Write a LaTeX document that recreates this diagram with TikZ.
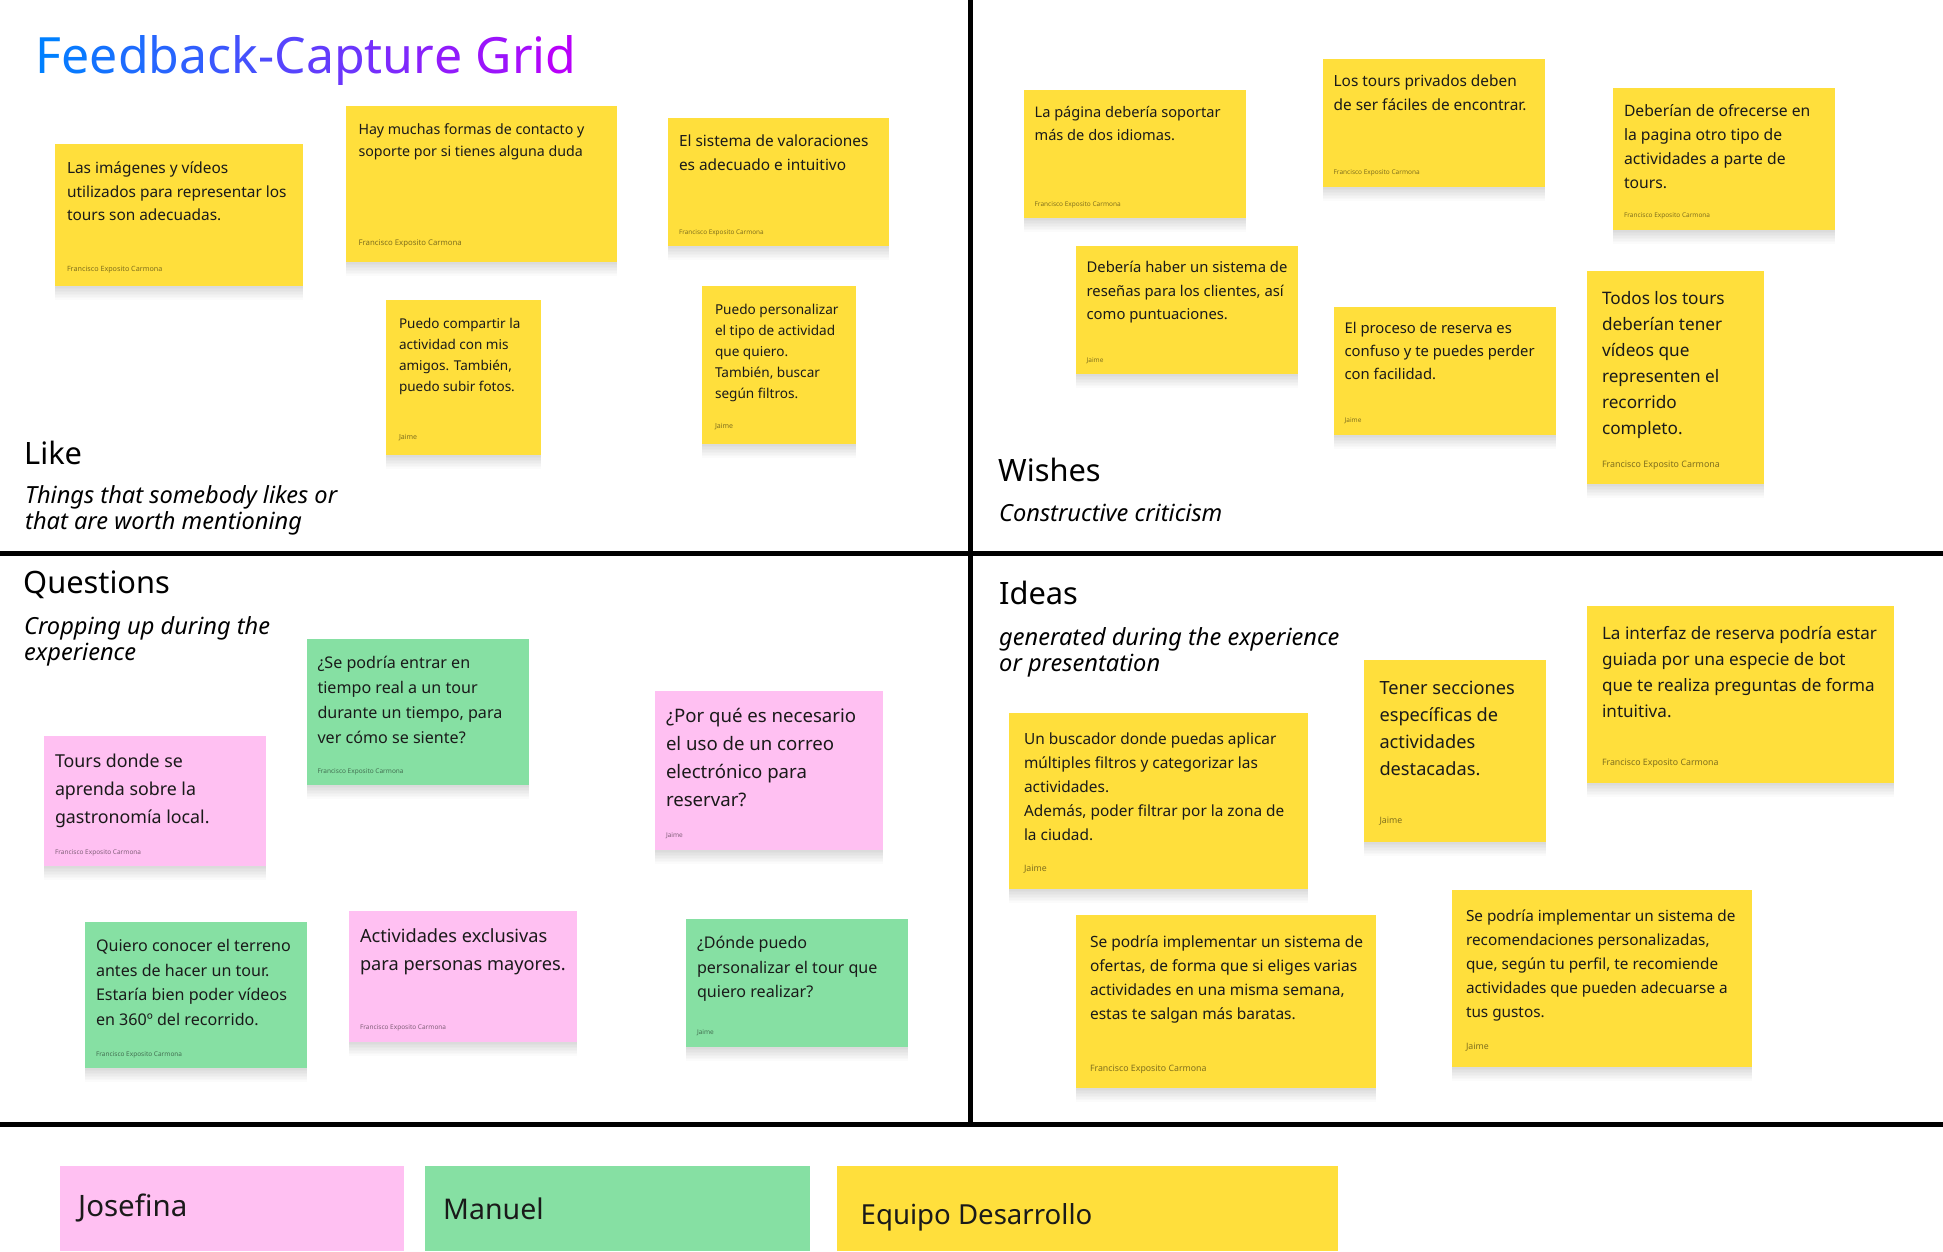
\documentclass[tikz,border=0pt]{standalone}
\usepackage{fontspec}
\setmainfont{Noto Sans}
\usetikzlibrary{fit,shadows}
\definecolor{stY}{RGB}{255,223,60}
\definecolor{stP}{RGB}{255,192,242}
\definecolor{stG}{RGB}{134,224,163}
\definecolor{tA}{RGB}{0,128,255}
\definecolor{tB}{RGB}{185,0,250}
\definecolor{ink}{RGB}{26,26,26}
\newcommand\tg[2]{\textcolor{tB!#1!tA}{#2}}
\newcommand\fl{\rule{0pt}{1em}}
\tikzset{
  fs/.style 2 args={font=\fontsize{#1}{#2}\selectfont},
  sh/.style={drop shadow={shadow xshift=0pt, shadow yshift=-#1pt, opacity=0.014, fill=black}},
  sticky/.style={inner sep=0pt, outer sep=0pt, draw=none,
    sh=1.5, sh=3, sh=4.5, sh=6, sh=7.5, sh=9, sh=10.5, sh=12, sh=13.5},
  yl/.style={sticky, fill=stY},
  pk/.style={sticky, fill=stP},
  gr/.style={sticky, fill=stG},
  stext/.style={anchor=north west, inner sep=0pt, outer sep=0pt, align=left, text=ink},
  sauth/.style={anchor=base west, inner sep=0pt, outer sep=0pt, text=black, text opacity=0.5},
  head/.style={anchor=base west, inner sep=0pt, text=black, fs={30.8}{35}},
  sub/.style={anchor=north west, inner sep=0pt, align=left, text=black, font=\fontsize{23.6}{25.6}\selectfont\itshape},
  grid/.style={line width=5pt, black},
  legend/.style={inner sep=0pt, outer sep=0pt, draw=none},
  legtext/.style={anchor=base west, inner sep=0pt, text=ink}
}
\begin{document}
\begin{tikzpicture}[x=1pt,y=-1pt]
\useasboundingbox (0,0) rectangle (1943,1251);
\fill[white] (0,0) rectangle (1943,1251);

% grid lines
\coordinate (vt) at (970.5,0);
\coordinate (vb) at (970.5,1124.5);
\coordinate (hl) at (0,553.5);
\coordinate (hr) at (1943,553.5);
\coordinate (bl) at (0,1124.5);
\coordinate (br) at (1943,1124.5);
\draw[grid] (vt) -- (vb);
\draw[grid] (hl) -- (hr);
\draw[grid] (bl) -- (br);

% title
\node[anchor=base west, inner sep=0pt, fs={50}{56}] (title) at (35.5,73.5)
 {\tg{0}{F}\tg{5}{e}\tg{11}{e}\tg{16}{d}\tg{21}{b}\tg{26}{a}\tg{32}{c}\tg{37}{k}\tg{42}{-}\tg{47}{C}\tg{53}{a}\tg{58}{p}\tg{63}{t}\tg{68}{u}\tg{74}{r}\tg{79}{e} \tg{84}{G}\tg{89}{r}\tg{95}{i}\tg{100}{d}};

% section headings
\node[head] (like) at (24,464) {Like};
\node[sub] (likesub) at (25,480) {\fl Things that somebody likes or\\that are worth mentioning};
\node[head] (wishes) at (998,481.4) {Wishes};
\node[sub] (wishsub) at (999,497.4) {\fl Constructive criticism};
\node[head] (quest) at (23,593.7) {Questions};
\node[sub] (questsub) at (24,610.8) {\fl Cropping up during the\\experience};
\node[head] (ideas) at (999,604.8) {Ideas};
\node[sub] (ideasub) at (999,621.9) {\fl generated during the experience\\or presentation};

% ---------- Like ----------
\node[yl, fit={(55,144) (303,286)}] (L1) {};
\node[stext, fs={15.4}{23.8}] (L1t) at ([shift={(12,13.9)}]L1.north west) {\fl Las imágenes y vídeos\\utilizados para representar los\\tours son adecuadas.};
\node[sauth, fs={7.2}{9}] (L1a) at ([shift={(12,-14.8)}]L1.south west) {Francisco Exposito Carmona};

\node[yl, fit={(346,106) (617,262)}] (L2) {};
\node[stext, fs={14.2}{22}] (L2t) at ([shift={(12.5,14.6)}]L2.north west) {\fl Hay muchas formas de contacto y\\soporte por si tienes alguna duda};
\node[sauth, fs={7.8}{9}] (L2a) at ([shift={(12.5,-16.2)}]L2.south west) {Francisco Exposito Carmona};

\node[yl, fit={(668,118) (889,246)}] (L3) {};
\node[stext, fs={15.4}{24}] (L3t) at ([shift={(11,13.1)}]L3.north west) {\fl El sistema de valoraciones\\es adecuado e intuitivo};
\node[sauth, fs={6.4}{8}] (L3a) at ([shift={(11,-12)}]L3.south west) {Francisco Exposito Carmona};

\node[yl, fit={(386,300) (541,455)}] (L4) {};
\node[stext, fs={13.5}{21}] (L4t) at ([shift={(13,14.8)}]L4.north west) {\fl Puedo compartir la\\actividad con mis\\amigos. También,\\puedo subir fotos.};
\node[sauth, fs={7}{9}] (L4a) at ([shift={(13,-15.4)}]L4.south west) {Jaime};

\node[yl, fit={(702,286) (856,444)}] (L5) {};
\node[stext, fs={13.6}{21}] (L5t) at ([shift={(13,14.8)}]L5.north west) {\fl Puedo personalizar\\el tipo de actividad\\que quiero.\\También, buscar\\según filtros.};
\node[sauth, fs={7}{9}] (L5a) at ([shift={(13,-16)}]L5.south west) {Jaime};

% ---------- Wishes ----------
\node[yl, fit={(1024,90) (1246,218)}] (W1) {};
\node[stext, fs={14.6}{23.2}] (W1t) at ([shift={(10.6,12.6)}]W1.north west) {\fl La página debería soportar\\más de dos idiomas.};
\node[sauth, fs={6.5}{8}] (W1a) at ([shift={(10.6,-11.7)}]W1.south west) {Francisco Exposito Carmona};

\node[yl, fit={(1323,59) (1545,187)}] (W2) {};
\node[stext, fs={15.4}{23.8}] (W2t) at ([shift={(10.6,12.5)}]W2.north west) {\fl Los tours privados deben\\de ser fáciles de encontrar.};
\node[sauth, fs={6.5}{8}] (W2a) at ([shift={(10.6,-12.4)}]W2.south west) {Francisco Exposito Carmona};

\node[yl, fit={(1613,88) (1835,230)}] (W3) {};
\node[stext, fs={15.7}{24}] (W3t) at ([shift={(11,12.8)}]W3.north west) {\fl Deberían de ofrecerse en\\la pagina otro tipo de\\actividades a parte de\\tours.};
\node[sauth, fs={6.5}{8}] (W3a) at ([shift={(11,-12.4)}]W3.south west) {Francisco Exposito Carmona};

\node[yl, fit={(1076,246) (1298,374)}] (W4) {};
\node[stext, fs={14.8}{23.4}] (W4t) at ([shift={(10.6,12.1)}]W4.north west) {\fl Debería haber un sistema de\\reseñas para los clientes, así\\como puntuaciones.};
\node[sauth, fs={6.5}{8}] (W4a) at ([shift={(10.6,-12)}]W4.south west) {Jaime};

\node[yl, fit={(1334,307) (1556,435)}] (W5) {};
\node[stext, fs={14.8}{23}] (W5t) at ([shift={(10.6,11.9)}]W5.north west) {\fl El proceso de reserva es\\confuso y te puedes perder\\con facilidad.};
\node[sauth, fs={6.5}{8}] (W5a) at ([shift={(10.6,-12.4)}]W5.south west) {Jaime};

\node[yl, fit={(1587,271) (1764,484)}] (W6) {};
\node[stext, fs={17.2}{26}] (W6t) at ([shift={(15,15.9)}]W6.north west) {\fl Todos los tours\\deberían tener\\vídeos que\\representen el\\recorrido\\completo.};
\node[sauth, fs={8.9}{10}] (W6a) at ([shift={(15,-16.8)}]W6.south west) {Francisco Exposito Carmona};

% ---------- Questions ----------
\node[pk, fit={(44,736) (266,866)}] (Q1) {};
\node[stext, fs={17.8}{28}] (Q1t) at ([shift={(11,13.5)}]Q1.north west) {\fl Tours donde se\\aprenda sobre la\\gastronomía local.};
\node[sauth, fs={6.5}{8}] (Q1a) at ([shift={(11,-12)}]Q1.south west) {Francisco Exposito Carmona};

\node[gr, fit={(307,639) (529,785)}] (Q2) {};
\node[stext, fs={16.1}{24.8}] (Q2t) at ([shift={(10.5,13.7)}]Q2.north west) {\fl ¿Se podría entrar en\\tiempo real a un tour\\durante un tiempo, para\\ver cómo se siente?};
\node[sauth, fs={6.5}{8}] (Q2a) at ([shift={(10.5,-12)}]Q2.south west) {Francisco Exposito Carmona};

\node[pk, fit={(655,691) (883,850)}] (Q3) {};
\node[stext, fs={18.6}{28}] (Q3t) at ([shift={(11,12.4)}]Q3.north west) {\fl ¿Por qué es necesario\\el uso de un correo\\electrónico para\\reservar?};
\node[sauth, fs={6.5}{8}] (Q3a) at ([shift={(11,-12.5)}]Q3.south west) {Jaime};

\node[gr, fit={(85,922) (307,1068)}] (Q4) {};
\node[stext, fs={16.1}{24.8}] (Q4t) at ([shift={(11,13.1)}]Q4.north west) {\fl Quiero conocer el terreno\\antes de hacer un tour.\\Estaría bien poder vídeos\\en 360º del recorrido.};
\node[sauth, fs={6.5}{8}] (Q4a) at ([shift={(11,-12)}]Q4.south west) {Francisco Exposito Carmona};

\node[pk, fit={(349,911) (577,1042)}] (Q5) {};
\node[stext, fs={18.2}{28.5}] (Q5t) at ([shift={(11,13.2)}]Q5.north west) {\fl Actividades exclusivas\\para personas mayores.};
\node[sauth, fs={6.5}{8}] (Q5a) at ([shift={(11,-12.5)}]Q5.south west) {Francisco Exposito Carmona};

\node[gr, fit={(686,919) (908,1047)}] (Q6) {};
\node[stext, fs={16.1}{24.8}] (Q6t) at ([shift={(11,13.1)}]Q6.north west) {\fl ¿Dónde puedo\\personalizar el tour que\\quiero realizar?};
\node[sauth, fs={6.5}{8}] (Q6a) at ([shift={(11,-12.8)}]Q6.south west) {Jaime};

% ---------- Ideas ----------
\node[yl, fit={(1009,713) (1308,889)}] (I1) {};
\node[stext, fs={15.4}{24}] (I1t) at ([shift={(15,16.3)}]I1.north west) {\fl Un buscador donde puedas aplicar\\múltiples filtros y categorizar las\\actividades.\\Además, poder filtrar por la zona de\\la ciudad.};
\node[sauth, fs={8.8}{10}] (I1a) at ([shift={(15,-17.3)}]I1.south west) {Jaime};

\node[yl, fit={(1364,660) (1546,842)}] (I2) {};
\node[stext, fs={18.2}{27}] (I2t) at ([shift={(15.5,16.3)}]I2.north west) {\fl Tener secciones\\específicas de\\actividades\\destacadas.};
\node[sauth, fs={8.8}{10}] (I2a) at ([shift={(15.5,-19)}]I2.south west) {Jaime};

\node[yl, fit={(1587,606) (1894,783)}] (I3) {};
\node[stext, fs={17.1}{26}] (I3t) at ([shift={(15,16)}]I3.north west) {\fl La interfaz de reserva podría estar\\guiada por una especie de bot\\que te realiza preguntas de forma\\intuitiva.};
\node[sauth, fs={8.8}{10}] (I3a) at ([shift={(15,-17.7)}]I3.south west) {Francisco Exposito Carmona};

\node[yl, fit={(1076,915) (1376,1088)}] (I4) {};
\node[stext, fs={15.5}{24}] (I4t) at ([shift={(14,16.5)}]I4.north west) {\fl Se podría implementar un sistema de\\ofertas, de forma que si eliges varias\\actividades en una misma semana,\\estas te salgan más baratas.};
\node[sauth, fs={8.8}{10}] (I4a) at ([shift={(14,-17)}]I4.south west) {Francisco Exposito Carmona};

\node[yl, fit={(1452,890) (1752,1067)}] (I5) {};
\node[stext, fs={15.3}{24}] (I5t) at ([shift={(14,16.6)}]I5.north west) {\fl Se podría implementar un sistema de\\recomendaciones personalizadas,\\que, según tu perfil, te recomiende\\actividades que pueden adecuarse a\\tus gustos.};
\node[sauth, fs={8.8}{10}] (I5a) at ([shift={(14,-17.5)}]I5.south west) {Jaime};

% ---------- Legend ----------
\node[legend, fill=stP, fit={(59.5,1166) (404,1251)}] (josefina) {};
\node[legtext, fs={29.5}{33}] (josefinat) at ([shift={(18.5,50)}]josefina.north west) {Josefina};
\node[legend, fill=stG, fit={(425,1166) (810,1251)}] (manuel) {};
\node[legtext, fs={28.5}{32}] (manuelt) at ([shift={(18,53)}]manuel.north west) {Manuel};
\node[legend, fill=stY, fit={(836.5,1166) (1338,1251)}] (equipo) {};
\node[legtext, fs={27.6}{31}] (equipot) at ([shift={(24,58)}]equipo.north west) {Equipo Desarrollo};
\end{tikzpicture}
\end{document}
